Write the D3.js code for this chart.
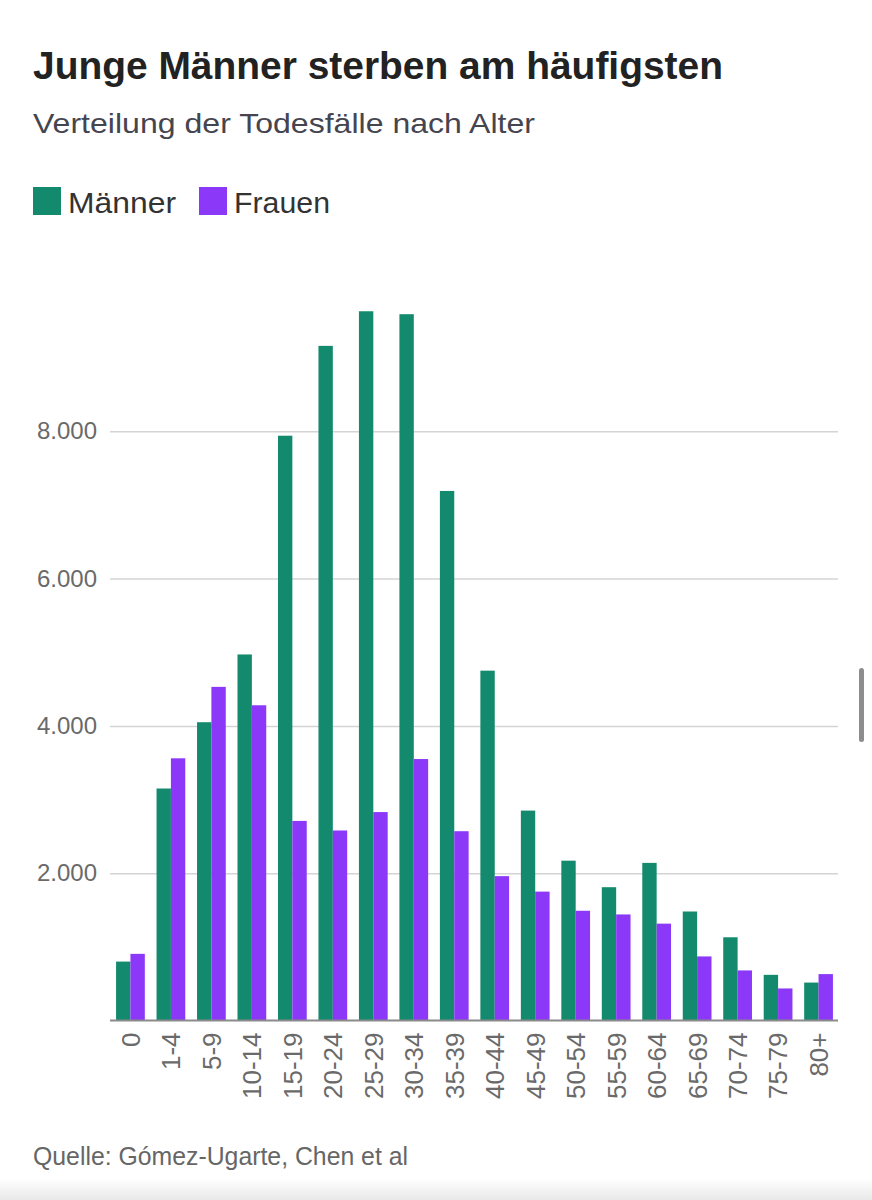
<!DOCTYPE html>
<html>
<head>
<meta charset="utf-8">
<script src="https://cdn.jsdelivr.net/npm/d3@7"></script>
<style>
  html, body { margin: 0; padding: 0; background: #fff; }
  text { font-family: "Liberation Sans", Arial, sans-serif; }
</style>
</head>
<body>
<svg id="chart" width="872" height="1200"></svg>
<script>
const svg = d3.select("#chart");

const ageGroups = ["0","1-4","5-9","10-14","15-19","20-24","25-29","30-34","35-39",
  "40-44","45-49","50-54","55-59","60-64","65-69","70-74","75-79","80+"];
const maenner = [800, 3150, 4050, 4970, 7940, 9160, 9630, 9590, 7190,
  4750, 2850, 2170, 1810, 2140, 1480, 1130, 620, 515];
const frauen = [905, 3560, 4530, 4280, 2710, 2580, 2830, 3550, 2570,
  1960, 1750, 1490, 1440, 1315, 870, 680, 435, 630];
const seriesNames = ["Männer", "Frauen"];
const colors = ["#138a6e", "#8b38f9"];
const yTicks = [2000, 4000, 6000, 8000];

const de = d3.formatLocale({decimal: ",", thousands: ".", grouping: [3], currency: ["", " €"]});
const fmt = de.format(",d");

// background
svg.append("rect").attr("width", 872).attr("height", 1200).attr("fill", "#fff");

// title block
svg.append("text")
   .attr("x", 33).attr("y", 79)
   .attr("font-size", 39).attr("font-weight", "bold").attr("fill", "#222")
   .attr("textLength", 690).attr("lengthAdjust", "spacingAndGlyphs")
   .text("Junge Männer sterben am häufigsten");

svg.append("text")
   .attr("x", 33).attr("y", 133)
   .attr("font-size", 28).attr("fill", "#45454f")
   .attr("textLength", 502).attr("lengthAdjust", "spacingAndGlyphs")
   .text("Verteilung der Todesfälle nach Alter");

// legend
const legendX = [33, 199];
const legendW = [108, 96];
seriesNames.forEach((s, i) => {
  svg.append("rect")
     .attr("x", legendX[i]).attr("y", 187).attr("width", 28).attr("height", 28)
     .attr("fill", colors[i]);
  svg.append("text")
     .attr("x", legendX[i] + 35).attr("y", 213)
     .attr("font-size", 30).attr("fill", "#333")
     .attr("textLength", legendW[i]).attr("lengthAdjust", "spacingAndGlyphs")
     .text(s);
});

// scales
const x = d3.scaleBand().domain(ageGroups).range([110, 839])
  .paddingInner(0.29).paddingOuter(0.15);
const xSub = d3.scaleBand().domain(seriesNames).range([0, x.bandwidth()]);
const y = d3.scaleLinear().domain([0, 10000]).range([1020.5, 284]);

// gridlines + y labels
const yAxis = svg.append("g").attr("transform", "translate(110,0)")
  .call(d3.axisLeft(y).tickValues(yTicks).tickSize(-728).tickFormat(fmt).tickPadding(13));
yAxis.select(".domain").remove();
yAxis.selectAll(".tick line").attr("stroke", "#d4d4d4").attr("stroke-width", 1.5);
yAxis.selectAll(".tick text")
  .attr("font-family", "'Liberation Sans', Arial, sans-serif")
  .attr("font-size", 24).attr("fill", "#6a6a6a");

// bars
const rows = ageGroups.map((g, i) => ({group: g, values: [maenner[i], frauen[i]]}));
const groups = svg.append("g").selectAll("g").data(rows).join("g")
  .attr("transform", d => `translate(${x(d.group)},0)`);
groups.selectAll("rect")
  .data(d => d.values.map((v, j) => ({key: seriesNames[j], value: v, c: colors[j]})))
  .join("rect")
  .attr("x", d => xSub(d.key))
  .attr("width", xSub.bandwidth())
  .attr("y", d => y(d.value))
  .attr("height", d => y(0) - y(d.value))
  .attr("fill", d => d.c);

// x axis
const xAxis = svg.append("g").attr("transform", `translate(0,${y(0)})`)
  .call(d3.axisBottom(x).tickSize(0).tickPadding(0));
xAxis.select(".domain").attr("d", "M110,0H838").attr("stroke", "#8a8a8a").attr("stroke-width", 2);
xAxis.selectAll(".tick text")
  .attr("font-family", "'DejaVu Sans', sans-serif")
  .attr("font-size", 26).attr("fill", "#6a6a6a")
  .attr("text-anchor", "end")
  .attr("transform", "rotate(-90)")
  .attr("x", -12).attr("y", 0).attr("dy", "0.36em");

// source
svg.append("text")
   .attr("x", 33).attr("y", 1165)
   .attr("font-size", 26).attr("fill", "#666")
   .attr("textLength", 375).attr("lengthAdjust", "spacingAndGlyphs")
   .text("Quelle: Gómez-Ugarte, Chen et al");

// scroll indicator
svg.append("rect")
   .attr("x", 859).attr("y", 668).attr("width", 5).attr("height", 74).attr("rx", 2.5)
   .attr("fill", "#8d8d8d");

// bottom shade
const defs = svg.append("defs");
const grad = defs.append("linearGradient").attr("id", "shade")
  .attr("x1", 0).attr("y1", 0).attr("x2", 0).attr("y2", 1);
grad.append("stop").attr("offset", 0).attr("stop-color", "#fff");
grad.append("stop").attr("offset", 1).attr("stop-color", "#e9e9e9");
svg.append("rect").attr("x", 0).attr("y", 1178).attr("width", 872).attr("height", 22)
   .attr("fill", "url(#shade)");
</script>
</body>
</html>
